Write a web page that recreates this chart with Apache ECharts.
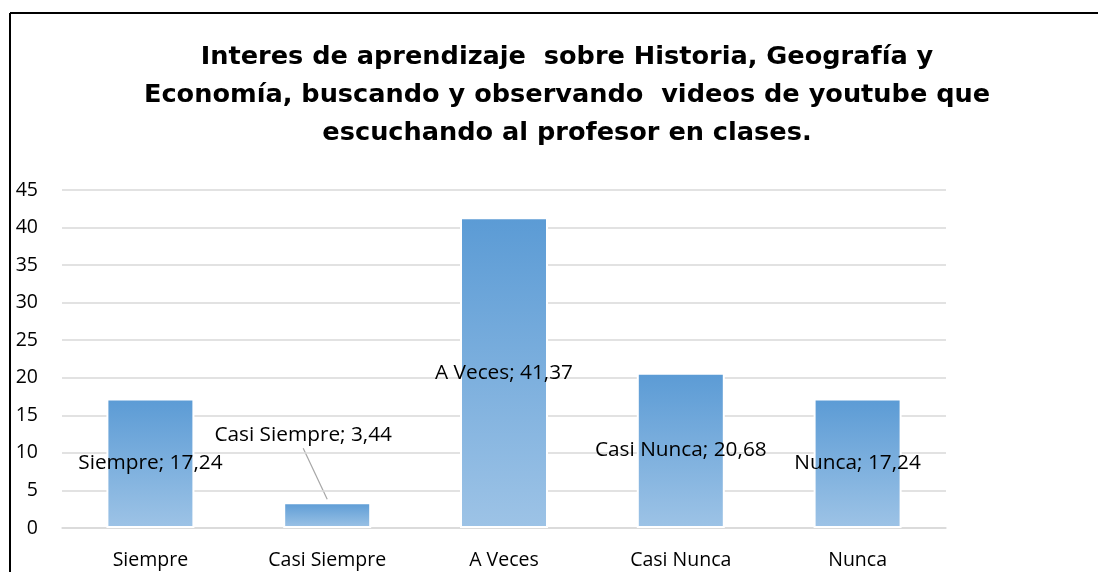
<!DOCTYPE html>
<html><head><meta charset="utf-8">
<script src="https://cdn.jsdelivr.net/npm/echarts@6/dist/echarts.min.js"></script>
<style>html,body{margin:0;padding:0;background:#fff}#c{width:1098px;height:572px}</style>
</head><body><div id="c"></div>
<script>
const categories = ['Siempre', 'Casi Siempre', 'A Veces', 'Casi Nunca', 'Nunca'];
const values = [17.24, 3.44, 41.37, 20.68, 17.24];
const yTicks = [0, 5, 10, 15, 20, 25, 30, 35, 40, 45];
const titleLines = ['Interes de aprendizaje  sobre Historia, Geografía y', 'Economía, buscando y observando  videos de youtube que', 'escuchando al profesor en clases.'];

const chart = echarts.init(document.getElementById('c'));
const fnt = '"Open Sans", Lato, sans-serif';
const frame = [
  { type: 'line', shape: { x1: 10, y1: 13, x2: 1098, y2: 13 }, style: { stroke: '#000', lineWidth: 2 } },
  { type: 'line', shape: { x1: 10, y1: 13, x2: 10, y2: 572 }, style: { stroke: '#000', lineWidth: 2 } }
];
chart.setOption({
  animation: false,
  title: {
    text: titleLines.join('\n'), left: 562, top: 33, textAlign: 'center',
    textStyle: { fontFamily: '"DejaVu Sans", sans-serif', fontWeight: 'bold', fontSize: 25.6, lineHeight: 38, color: '#000' }
  },
  grid: { left: 62, right: 152, top: 190, bottom: 44 },
  xAxis: {
    type: 'category', data: categories,
    axisLine: { lineStyle: { color: '#D9D9D9', width: 1.5 } },
    axisTick: { show: false },
    axisLabel: { fontFamily: fnt, fontSize: 19.5, color: '#000', margin: 22 }
  },
  yAxis: {
    type: 'value', min: yTicks[0], max: yTicks[yTicks.length - 1], interval: 5,
    axisLine: { show: false }, axisTick: { show: false },
    axisLabel: { fontFamily: fnt, fontSize: 19.5, color: '#000', margin: 24 },
    splitLine: { lineStyle: { color: '#D9D9D9', width: 1.5 } }
  },
  series: [{
    type: 'bar', barWidth: 88,
    data: values.map((v, i) => ({
      value: v,
      label: i === 1 ? { position: 'top', offset: [-24, -52] } : undefined
    })),
    itemStyle: {
      borderColor: '#fff', borderWidth: 2,
      color: new echarts.graphic.LinearGradient(0, 0, 0, 1, [
        { offset: 0, color: '#5B9BD5' }, { offset: 1, color: '#9DC3E6' }
      ])
    },
    label: {
      show: true, position: 'inside', fontFamily: fnt, fontSize: 20.8, color: '#000',
      formatter: p => p.name + '; ' + String(p.value).replace('.', ',')
    }
  }],
  graphic: frame
});
// leader line for the moved "Casi Siempre" label, anchored to the data point
const pt = chart.convertToPixel({ gridIndex: 0 }, [categories[1], values[1]]);
chart.setOption({
  graphic: frame.concat([
    { type: 'line', shape: { x1: pt[0] - 24, y1: pt[1] - 54, x2: pt[0], y2: pt[1] - 3 }, style: { stroke: '#A6A6A6', lineWidth: 1.2 } }
  ])
});
</script></body></html>
